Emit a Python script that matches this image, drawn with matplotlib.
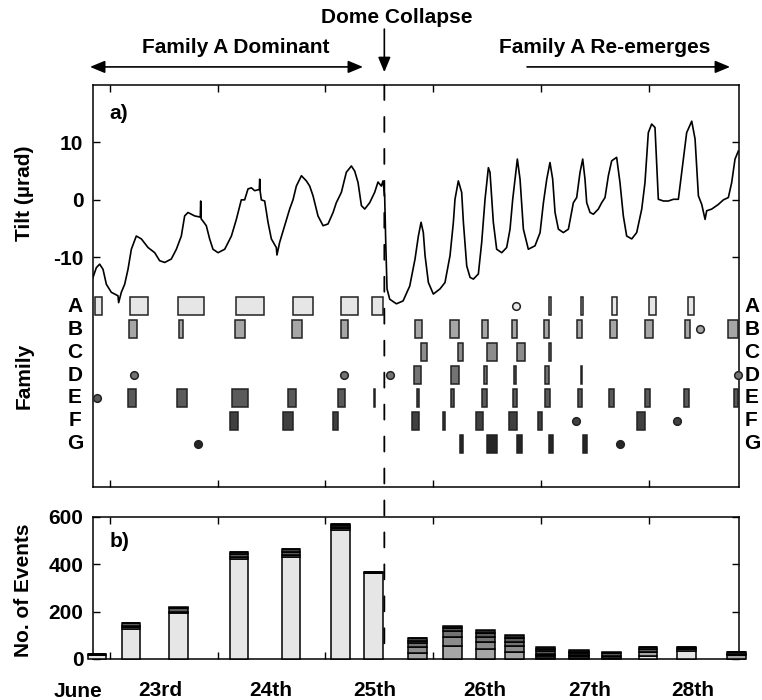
#!/usr/bin/env python

import numpy as np
import matplotlib
matplotlib.use('Agg')
from matplotlib import pyplot as plt
from matplotlib.patches import Rectangle, ConnectionPatch
from matplotlib.transforms import blended_transform_factory

plt.rcParams['font.family'] = ['Liberation Sans', 'DejaVu Sans']
plt.rcParams['font.weight'] = 'bold'
plt.rcParams['font.size'] = 15
plt.rcParams['axes.unicode_minus'] = False

DOME_COLLAPSE = 25.547   # day of June
XLIM = (22.842, 28.840)

# tilt record: day of June, microradians
tilt_day = [22.842, 22.873, 22.904, 22.935, 22.966, 23.012, 23.074, 23.080, 23.105, 23.136,
            23.167, 23.198, 23.244, 23.291, 23.353, 23.415, 23.461, 23.508, 23.569, 23.616,
            23.662, 23.693, 23.724, 23.786, 23.838, 23.842, 23.846, 23.863, 23.894, 23.925,
            23.956, 24.003, 24.065, 24.127, 24.173, 24.219, 24.250, 24.281, 24.312, 24.343,
            24.386, 24.390, 24.394, 24.405, 24.436, 24.467, 24.498, 24.544, 24.550, 24.575,
            24.622, 24.668, 24.699, 24.730, 24.777, 24.823, 24.854, 24.885, 24.931, 24.978,
            25.024, 25.071, 25.101, 25.148, 25.194, 25.241, 25.272, 25.303, 25.334, 25.365,
            25.411, 25.457, 25.488, 25.519, 25.535, 25.550, 25.560, 25.572, 25.597, 25.659,
            25.721, 25.783, 25.832, 25.863, 25.888, 25.909, 25.925, 25.956, 26.002, 26.064,
            26.110, 26.157, 26.188, 26.203, 26.234, 26.265, 26.281, 26.312, 26.343, 26.374,
            26.420, 26.451, 26.482, 26.513, 26.528, 26.559, 26.590, 26.637, 26.683, 26.714,
            26.739, 26.782, 26.807, 26.838, 26.884, 26.946, 26.993, 27.024, 27.055, 27.085,
            27.110, 27.132, 27.163, 27.209, 27.256, 27.302, 27.333, 27.364, 27.389, 27.410,
            27.426, 27.457, 27.488, 27.534, 27.565, 27.596, 27.627, 27.658, 27.704, 27.735,
            27.766, 27.797, 27.844, 27.890, 27.937, 27.967, 27.998, 28.029, 28.060, 28.091,
            28.138, 28.184, 28.231, 28.277, 28.308, 28.354, 28.401, 28.432, 28.463, 28.494,
            28.525, 28.540, 28.587, 28.648, 28.695, 28.741, 28.772, 28.803, 28.834]
tilt_urad = [-13.5, -11.8, -11.2, -12.1, -14.7, -16.1, -16.7, -17.9, -16.1, -14.7,
             -12.1, -8.6, -6.3, -6.8, -8.3, -9.2, -10.6, -10.9, -10.3, -8.6,
             -6.3, -2.8, -2.2, -2.8, -3.0, -0.2, -3.3, -3.7, -4.5, -6.8,
             -8.6, -9.2, -8.6, -6.3, -3.4, 0.0, 0.0, 1.9, 2.1, 1.6,
             1.8, 3.6, 1.5, 0.0, -0.2, -3.9, -6.8, -8.3, -9.6, -7.4,
             -4.5, -1.6, 0.0, 2.4, 4.2, 3.3, 2.4, 0.7, -2.8, -4.5,
             -4.2, -2.2, -0.5, 1.3, 4.8, 5.9, 5.0, 3.0, -1.0, -1.6,
             -0.5, 1.3, 3.1, 2.4, 3.3, 0.7, -7.4, -15.5, -17.3, -18.1,
             -17.6, -15.0, -10.3, -6.3, -3.9, -5.7, -9.7, -14.4, -16.4, -15.5,
             -14.4, -9.7, -3.9, 0.1, 3.3, 1.3, -3.9, -11.5, -13.5, -13.8,
             -12.9, -7.4, 0.1, 5.6, 4.8, -3.9, -8.6, -9.2, -8.3, -5.1,
             0.1, 7.1, 3.6, -5.1, -8.6, -8.0, -5.7, -0.5, 3.6, 6.5,
             3.6, -2.2, -5.1, -5.7, -5.1, -0.5, 0.4, 4.8, 7.1, 3.6,
             -0.5, -2.2, -2.5, -1.6, -0.5, 0.4, 4.2, 6.8, 7.4, 3.0,
             -2.8, -6.3, -6.8, -5.7, -1.6, 3.0, 11.7, 13.2, 12.6, 0.1,
             -0.2, -0.2, 0.1, 0.1, 4.8, 11.7, 13.7, 10.6, 0.7, -0.8,
             -3.4, -1.9, -1.6, -0.8, 0.0, 0.4, 3.0, 7.1, 8.5]

families = ['A', 'B', 'C', 'D', 'E', 'F', 'G']
fam_colours = ['#e6e6e6', '#a6a6a6', '#8c8c8c', '#737373', '#5a5a5a', '#404040', '#262626']

# periods of activity (start, end day); start == end is a short burst
fam_A_spans = [(22.861, 22.923), (23.186, 23.356), (23.628, 23.873), (24.170, 24.433),
               (24.696, 24.888), (25.142, 25.300), (25.436, 25.538), (27.085, 27.085),
               (27.383, 27.383), (27.658, 27.704), (28.007, 28.066), (28.369, 28.422)]
fam_B_spans = [(23.180, 23.248), (23.644, 23.681), (24.161, 24.253), (24.690, 24.780),
               (25.142, 25.213), (25.832, 25.894), (26.157, 26.243), (26.451, 26.513),
               (26.729, 26.776), (27.030, 27.080), (27.339, 27.385), (27.643, 27.704),
               (27.968, 28.045), (28.339, 28.385), (28.741, 28.833)]
fam_C_spans = [(25.884, 25.946), (26.234, 26.281), (26.503, 26.596), (26.782, 26.853),
               (27.085, 27.085)]
fam_D_spans = [(25.826, 25.885), (26.166, 26.243), (26.473, 26.503), (26.760, 26.760),
               (27.039, 27.079), (27.378, 27.378)]
fam_E_spans = [(23.170, 23.241), (23.619, 23.712), (24.130, 24.284), (24.656, 24.724),
               (25.120, 25.182), (25.456, 25.456), (25.860, 25.860), (26.166, 26.194),
               (26.457, 26.503), (26.739, 26.782), (27.039, 27.085), (27.342, 27.382),
               (27.636, 27.680), (27.967, 28.017), (28.330, 28.379), (28.794, 28.834)]
fam_F_spans = [(24.114, 24.191), (24.603, 24.702), (25.068, 25.114), (25.801, 25.872),
               (26.101, 26.101), (26.395, 26.460), (26.708, 26.776), (26.971, 27.008),
               (27.889, 27.967)]
fam_G_spans = [(26.250, 26.275), (26.503, 26.590), (26.782, 26.825), (27.079, 27.110),
               (27.389, 27.426)]

# isolated single events
fam_A_dots = [26.767]
fam_B_dots = [28.478]
fam_C_dots = []
fam_D_dots = [23.226, 25.173, 25.600, 28.827]
fam_E_dots = [22.877]
fam_F_dots = [27.327, 28.267]
fam_G_dots = [23.820, 27.735]

spans = [fam_A_spans, fam_B_spans, fam_C_spans, fam_D_spans, fam_E_spans, fam_F_spans, fam_G_spans]
dots = [fam_A_dots, fam_B_dots, fam_C_dots, fam_D_dots, fam_E_dots, fam_F_dots, fam_G_dots]

# event counts per inflation cycle, split by family
bar_left = [22.796, 23.111, 23.548, 24.114, 24.597, 25.052, 25.358, 25.767, 26.092,
            26.398, 26.668, 26.955, 27.262, 27.568, 27.912, 28.265, 28.729]
bar_right = [22.963, 23.279, 23.724, 24.281, 24.764, 25.228, 25.535, 25.943, 26.268,
             26.575, 26.844, 27.132, 27.448, 27.745, 28.079, 28.441, 28.905]
counts_A = [17, 126, 193, 420, 430, 544, 362, 0, 0, 0, 0, 3, 3, 4, 13, 35, 0]
counts_B = [0, 10, 7, 10, 10, 8, 0, 24, 56, 41, 28, 8, 8, 8, 18, 6, 18]
counts_C = [0, 0, 0, 0, 0, 0, 0, 28, 38, 32, 27, 4, 0, 0, 0, 0, 0]
counts_D = [0, 3, 0, 0, 0, 3, 0, 17, 25, 18, 18, 8, 4, 0, 0, 0, 2]
counts_E = [3, 14, 15, 14, 12, 8, 3, 8, 10, 17, 14, 12, 10, 13, 10, 7, 8]
counts_F = [0, 0, 0, 6, 10, 6, 0, 10, 0, 0, 0, 8, 3, 0, 8, 1, 0]
counts_G = [0, 0, 3, 0, 0, 0, 0, 0, 10, 14, 14, 9, 10, 3, 0, 0, 0]
counts = [counts_A, counts_B, counts_C, counts_D, counts_E, counts_F, counts_G]

day_ticks = [23, 24, 25, 26, 27, 28]
day_label_pos = [23.47, 24.49, 25.46, 26.48, 27.45, 28.41]
day_labels = ['23rd', '24th', '25th', '26th', '27th', '28th']

ROW_TOP = -18.5     # tilt-axis position of family A row
ROW_STEP = 4.0
ROW_H = 3.1
MIN_W = 0.014
EDGE = '#222222'


def style_axes(ax):
    for s in ax.spines.values():
        s.set_linewidth(1.1)
    ax.tick_params(which='major', direction='in', top=True, right=True,
                   length=5, width=1.0, pad=7, labelsize=15)
    ax.set_xlim(*XLIM)
    ax.set_xticks(day_ticks)


fig = plt.figure(figsize=(7.62, 7.0), dpi=100)
ax_a = fig.add_axes([93/762, 1 - 487/700, 646/762, 402/700])
ax_b = fig.add_axes([93/762, 1 - 659/700, 646/762, 142.3/700])

# ---- a) tilt and family activity
style_axes(ax_a)
ax_a.plot(tilt_day, tilt_urad, color='k', lw=1.2)
ax_a.set_ylim(-50, 20)
ax_a.set_yticks([10, 0, -10])
ax_a.set_xticklabels([])

for i, (fam, col) in enumerate(zip(families, fam_colours)):
    yc = ROW_TOP - i * ROW_STEP
    for t0, t1 in spans[i]:
        w = max(t1 - t0, MIN_W)
        xc = (t0 + t1) / 2.
        ax_a.add_patch(Rectangle((xc - w/2., yc - ROW_H/2.), w, ROW_H, facecolor=col,
                                 edgecolor=EDGE, lw=1.1, clip_on=False, zorder=3))
    if dots[i]:
        ax_a.plot(dots[i], [yc] * len(dots[i]), 'o', ms=5.5, mfc=col, mec=EDGE,
                  mew=1.1, clip_on=False, zorder=4)
    tr = blended_transform_factory(ax_a.transAxes, ax_a.transData)
    ax_a.text(-0.028, yc, fam, transform=tr, ha='center', va='center')
    ax_a.text(1.008, yc, fam, transform=tr, ha='left', va='center')

ax_a.text(0.026, 0.952, 'a)', transform=ax_a.transAxes, ha='left', va='top')

# annotations above panel a
tr_top = blended_transform_factory(ax_a.transData, ax_a.transAxes)
ax_a.annotate('', xy=(22.814, 1.045), xytext=(25.349, 1.045), xycoords=tr_top,
              textcoords=tr_top, annotation_clip=False,
              arrowprops=dict(arrowstyle='<|-|>,head_length=0.6,head_width=0.25',
                              mutation_scale=15, color='k', lw=1.2, shrinkA=0, shrinkB=0))
ax_a.annotate('', xy=(26.872, 1.045), xytext=(28.757, 1.045), xycoords=tr_top,
              textcoords=tr_top, annotation_clip=False,
              arrowprops=dict(arrowstyle='<|-,head_length=0.6,head_width=0.25',
                              mutation_scale=15, color='k', lw=1.2, shrinkA=0, shrinkB=0))
ax_a.annotate('', xy=(DOME_COLLAPSE, 1.032), xytext=(DOME_COLLAPSE, 1.139), xycoords=tr_top,
              textcoords=tr_top, annotation_clip=False,
              arrowprops=dict(arrowstyle='-|>,head_length=0.6,head_width=0.25',
                              mutation_scale=15, color='k', lw=1.2, shrinkA=0, shrinkB=0))
ax_a.text(24.17, 1.080, 'Family A Dominant', transform=tr_top, ha='center', va='baseline')
ax_a.text(27.596, 1.080, 'Family A Re-emerges', transform=tr_top, ha='center', va='baseline')
ax_a.text(25.665, 1.153, 'Dome Collapse', transform=tr_top, ha='center', va='baseline')

# ---- b) number of events per cycle
style_axes(ax_b)
bottom = np.zeros(len(bar_left))
widths = np.array(bar_right) - np.array(bar_left)
for c, col in zip(counts, fam_colours):
    ax_b.bar(bar_left, c, widths, bottom=bottom, align='edge', color=col,
             edgecolor='k', lw=1.1, clip_on=False, zorder=3)
    bottom += np.array(c)
ax_b.set_ylim(0, 600)
ax_b.set_yticks([0, 200, 400, 600])
ax_b.set_xticklabels([])
ax_b.set_xticks(day_label_pos, minor=True)
ax_b.set_xticklabels(day_labels, minor=True)
ax_b.tick_params(which='minor', length=0, pad=16, labelsize=15)
ax_b.text(22.70, -0.16, 'June', transform=blended_transform_factory(ax_b.transData, ax_b.transAxes),
          ha='center', va='top', clip_on=False)
ax_b.text(0.026, 0.895, 'b)', transform=ax_b.transAxes, ha='left', va='top')

# dome collapse marker through both panels
con = ConnectionPatch(xyA=(DOME_COLLAPSE, 20), coordsA=ax_a.transData,
                      xyB=(DOME_COLLAPSE, 0), coordsB=ax_b.transData,
                      color='k', lw=1.3, linestyle=(0, (8.3, 9.4)), zorder=5)
fig.add_artist(con)

# axis labels
fig.text(24/762, 1 - 193/700, 'Tilt (µrad)', rotation=90, ha='center', va='center')
fig.text(24/762, 1 - 376/700, 'Family', rotation=90, ha='center', va='center')
fig.text(24/762, 1 - 590/700, 'No. of Events', rotation=90, ha='center', va='center')

fig.savefig('out.png', dpi=100)
